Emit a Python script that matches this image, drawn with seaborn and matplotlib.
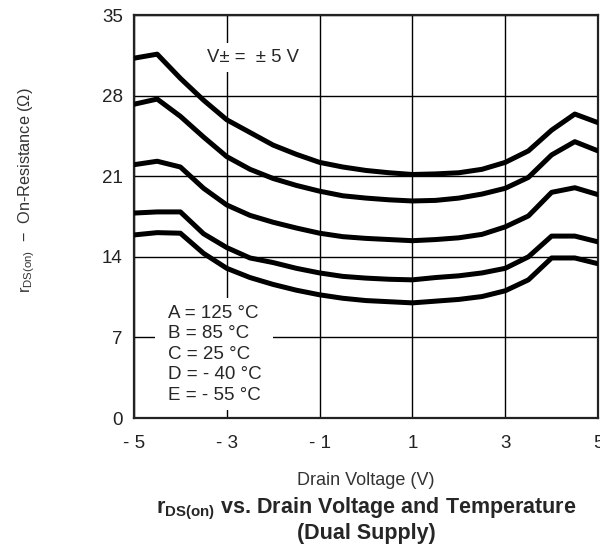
import matplotlib
matplotlib.use('Agg')
import matplotlib.pyplot as plt
from matplotlib.patches import Rectangle
import seaborn as sns
import numpy as np
import pandas as pd

# drain voltage, 0.5 V steps
volts = [-5, -4.5, -4, -3.5, -3, -2.5, -2, -1.5, -1, -0.5, 0,
         0.5, 1, 1.5, 2, 2.5, 3, 3.5, 4, 4.5, 5]

# on-resistance (ohm) per temperature curve
r_a = [31.25, 31.6, 29.5, 27.6, 25.9, 24.8, 23.7, 22.9, 22.2, 21.8, 21.5,
       21.3, 21.15, 21.2, 21.3, 21.6, 22.2, 23.2, 25.0, 26.4, 25.65]
r_b = [27.25, 27.7, 26.2, 24.4, 22.7, 21.6, 20.8, 20.2, 19.7, 19.3, 19.1,
       18.95, 18.85, 18.9, 19.1, 19.45, 19.95, 20.9, 22.85, 24.0, 23.2]
r_c = [22.0, 22.3, 21.8, 19.95, 18.5, 17.6, 17.0, 16.5, 16.05, 15.75, 15.6,
       15.5, 15.4, 15.5, 15.65, 15.95, 16.6, 17.55, 19.6, 20.0, 19.4]
r_d = [17.8, 17.9, 17.9, 16.0, 14.8, 13.9, 13.5, 13.0, 12.6, 12.3, 12.15,
       12.05, 12.0, 12.2, 12.35, 12.6, 13.0, 14.0, 15.8, 15.8, 15.3]
r_e = [15.9, 16.1, 16.05, 14.3, 13.0, 12.2, 11.6, 11.1, 10.7, 10.4, 10.2,
       10.1, 10.0, 10.15, 10.3, 10.55, 11.05, 12.0, 13.9, 13.9, 13.4]

curve_names = ['A', 'B', 'C', 'D', 'E']
legend_lines = ['A = 125 °C', 'B = 85 °C', 'C = 25 °C', 'D = - 40 °C', 'E = - 55 °C']

x_ticks = [-5, -3, -1, 1, 3, 5]
x_ticklabels = ['- 5', '- 3', '- 1', '1', '3', '5']
y_ticks = [0, 7, 14, 21, 28, 35]

sns.set_style('white')
plt.rcParams['font.family'] = ['Liberation Sans', 'DejaVu Sans']
plt.rcParams['mathtext.fontset'] = 'custom'
plt.rcParams['mathtext.rm'] = 'Liberation Sans'
plt.rcParams['mathtext.it'] = 'Liberation Sans'
plt.rcParams['mathtext.bf'] = 'Liberation Sans:bold'

rows = []
for name, vals in zip(curve_names, [r_a, r_b, r_c, r_d, r_e]):
    for v, r in zip(volts, vals):
        rows.append({'V': v, 'R': r, 'curve': name})
df = pd.DataFrame(rows)

fig = plt.figure(figsize=(6, 5.48), dpi=100)
ax = fig.add_axes([0.2233, 0.2372, 0.7734, 0.7354])

sns.lineplot(data=df, x='V', y='R', hue='curve', palette=['black'] * 5,
             legend=False, linewidth=3.6, sort=False, ax=ax, zorder=3)

ax.set_xlim(-5, 5)
ax.set_ylim(0, 35)
ax.set_xticks(x_ticks)
ax.set_xticklabels(x_ticklabels)
ax.set_yticks(y_ticks)
ax.tick_params(length=0, labelsize=13.5, colors='#222222')
ax.tick_params(axis='x', pad=12)
ax.tick_params(axis='y', pad=8)
ax.grid(True, color='black', linewidth=1.0)
ax.set_axisbelow(True)
for s in ax.spines.values():
    s.set_color('#222222')
    s.set_linewidth(1.6)

ax.set_xlabel('Drain Voltage (V)', fontsize=13, color='#333333', va='center')
ax.xaxis.set_label_coords(0.5, -0.154)
ax.set_ylabel(r'r$_{\mathregular{DS(on)}}$  −  On-Resistance (Ω)', fontsize=11.7,
              color='#333333', va='center')
ax.yaxis.set_label_coords(-0.232, 0.565)

# white boxes behind the annotations (they cut the grid)
ax.add_patch(Rectangle((-3.58, 30.06), 2.365, 2.52, facecolor='white',
                       edgecolor='none', zorder=1))
ax.add_patch(Rectangle((-4.548, 0.70), 2.537, 9.73, facecolor='white',
                       edgecolor='none', zorder=1))

ax.text(-3.43, 31.35, 'V± =  ± 5 V', fontsize=13.3, va='center', ha='left', zorder=2)
ax.text(-4.27, 9.85, '\n'.join(legend_lines), fontsize=13.5, va='top', ha='left',
        linespacing=1.27, zorder=2)

ax.text(0.5, -0.226, r'$\mathbf{r_{DS(on)}}$ vs. Drain Voltage and Temperature',
        transform=ax.transAxes, ha='center', va='center', fontsize=15.5,
        fontweight='bold')
ax.text(0.5, -0.287, '(Dual Supply)', transform=ax.transAxes, ha='center',
        va='center', fontsize=15.5, fontweight='bold')

fig.savefig('out.png', dpi=100)
